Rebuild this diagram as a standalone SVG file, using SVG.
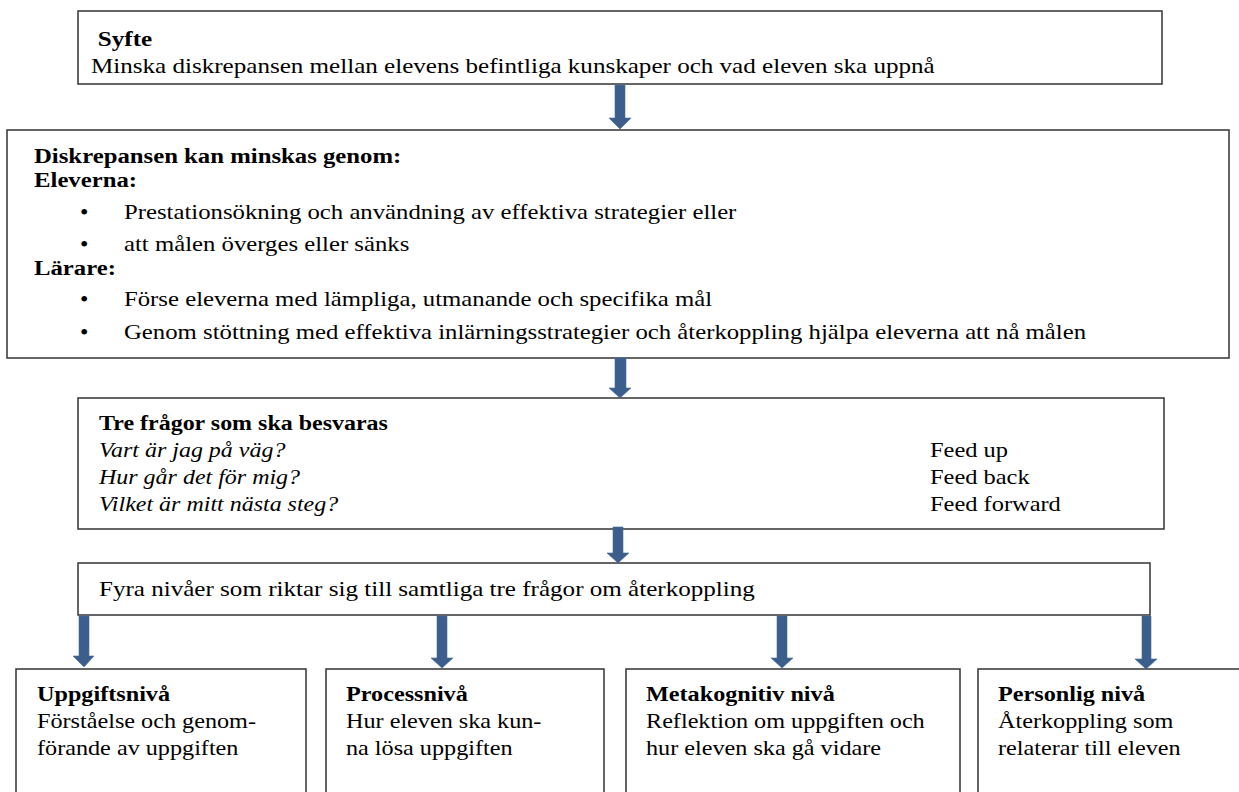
<svg xmlns="http://www.w3.org/2000/svg" width="1239" height="792" viewBox="0 0 1239 792">
<style>
.box{fill:#fff;stroke:#333;stroke-width:1.5}
.t{font-family:"Liberation Serif","Times New Roman",serif;font-size:22px;fill:#000}
.b{font-weight:bold}
.i{font-style:italic}
.bul{font-family:"Liberation Serif","Times New Roman",serif;font-size:24px;fill:#000}
.arr{fill:#3b5e8d;stroke:#4a6b98;stroke-width:0.6}
</style>
<rect width="1239" height="792" fill="#fff"/>
<g id="n-syfte">
<rect class="box" x="78" y="11" width="1084" height="73"/>
<g transform="translate(91,0) scale(1.14,1)">
<text class="t b" x="6" y="46">Syfte</text>
<text class="t" x="0" y="73">Minska diskrepansen mellan elevens befintliga kunskaper och vad eleven ska uppnå</text>
</g>
</g>
<g id="n-diskrepans">
<rect class="box" x="7" y="130" width="1222" height="228"/>
<text class="bul" x="80" y="220">•</text>
<text class="bul" x="80" y="252">•</text>
<text class="bul" x="80" y="307">•</text>
<text class="bul" x="80" y="340">•</text>
<g transform="translate(34,0) scale(1.125,1)">
<text class="t b" x="0" y="163">Diskrepansen kan minskas genom:</text>
<text class="t b" x="0" y="187">Eleverna:</text>
<text class="t" x="80" y="219">Prestationsökning och användning av effektiva strategier eller</text>
<text class="t" x="80" y="251">att målen överges eller sänks</text>
<text class="t b" x="0" y="275">Lärare:</text>
<text class="t" x="80" y="306">Förse eleverna med lämpliga, utmanande och specifika mål</text>
<text class="t" x="80" y="339">Genom stöttning med effektiva inlärningsstrategier och återkoppling hjälpa eleverna att nå målen</text>
</g>
</g>
<g id="n-tre">
<rect class="box" x="78" y="398" width="1086" height="131"/>
<g transform="translate(99,0) scale(1.09,1)">
<text class="t b" x="0" y="430">Tre frågor som ska besvaras</text>
<text class="t i" x="0" y="457">Vart är jag på väg?</text>
<text class="t i" x="0" y="484">Hur går det för mig?</text>
<text class="t i" x="0" y="511">Vilket är mitt nästa steg?</text>
</g>
<g transform="translate(930,0) scale(1.11,1)">
<text class="t" x="0" y="457">Feed up</text>
<text class="t" x="0" y="484">Feed back</text>
<text class="t" x="0" y="511">Feed forward</text>
</g>
</g>
<g id="n-fyra">
<rect class="box" x="78" y="563" width="1072" height="52"/>
<g transform="translate(99,0) scale(1.14,1)">
<text class="t" x="0" y="596">Fyra nivåer som riktar sig till samtliga tre frågor om återkoppling</text>
</g>
</g>
<g id="n-uppgift">
<rect class="box" x="16" y="669" width="290" height="140"/>
<g transform="translate(37,0) scale(1.1,1)">
<text class="t b" x="0" y="701">Uppgiftsnivå</text>
<text class="t" x="0" y="728">Förståelse och genom-</text>
<text class="t" x="0" y="755">förande av uppgiften</text>
</g>
</g>
<g id="n-process">
<rect class="box" x="326" y="669" width="278" height="140"/>
<g transform="translate(346,0) scale(1.1,1)">
<text class="t b" x="0" y="701">Processnivå</text>
<text class="t" x="0" y="728">Hur eleven ska kun-</text>
<text class="t" x="0" y="755">na lösa uppgiften</text>
</g>
</g>
<g id="n-meta">
<rect class="box" x="626" y="669" width="334" height="140"/>
<g transform="translate(646,0) scale(1.1,1)">
<text class="t b" x="0" y="701">Metakognitiv nivå</text>
<text class="t" x="0" y="728">Reflektion om uppgiften och</text>
<text class="t" x="0" y="755">hur eleven ska gå vidare</text>
</g>
</g>
<g id="n-personlig">
<rect class="box" x="978" y="669" width="300" height="140"/>
<g transform="translate(998,0) scale(1.1,1)">
<text class="t b" x="0" y="701">Personlig nivå</text>
<text class="t" x="0" y="728">Återkoppling som</text>
<text class="t" x="0" y="755">relaterar till eleven</text>
</g>
</g>
<g id="connectors">
<polygon class="arr" points="615,85 625,85 625,118 631,118 620,129 609,118 615,118"/>
<polygon class="arr" points="615,358 626,358 626,388 631,388 620,398 609,388 615,388"/>
<polygon class="arr" points="613,527 623,527 623,553 629,553 618,563 607,553 613,553"/>
<polygon class="arr" points="79,616 89,616 89,656 94,656 84,667 73,656 79,656"/>
<polygon class="arr" points="437,616 447,616 447,658 453,658 442,668 431,658 437,658"/>
<polygon class="arr" points="777,616 787,616 787,658 793,658 782,668 771,658 777,658"/>
<polygon class="arr" points="1142,616 1151,616 1151,659 1157,659 1146,669 1135,659 1142,659"/>
</g>
</svg>
